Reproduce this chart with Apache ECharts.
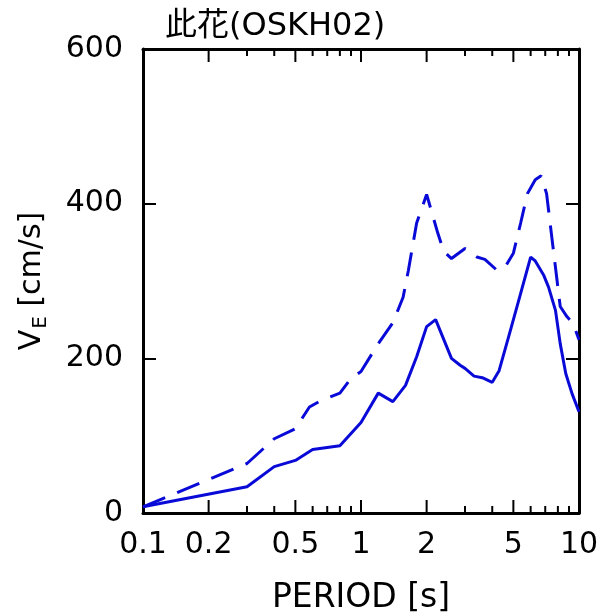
<!DOCTYPE html>
<html>
<head>
<meta charset="utf-8">
<script src="https://cdn.jsdelivr.net/npm/echarts@6/dist/echarts.min.js"></script>
<style>
  html, body { margin: 0; padding: 0; background: #fff; }
  #chart { width: 605px; height: 616px; }
</style>
</head>
<body>
<div id="chart"></div>
<script>
// period [s] and velocity [cm/s]
const solidPeriods = [0.1, 0.3, 0.4, 0.5, 0.6, 0.8, 1.0, 1.2, 1.4, 1.6, 1.8, 2.0, 2.2, 2.6, 2.85, 3.0, 3.3, 3.6, 4.0, 4.3, 4.8, 5.4, 6.0, 6.3, 6.9, 7.25, 7.8, 8.2, 8.7, 9.3, 10];
const solidValues  = [8, 34, 60, 68, 82, 87, 117, 155, 144, 165, 202, 241, 250, 200, 191, 187, 177, 175, 169, 184, 232, 284, 331, 326, 307, 292, 262, 219, 180, 154, 131];

const dashedPeriods = [0.1, 0.3, 0.4, 0.5, 0.58, 0.66, 0.8, 0.9, 1.0, 1.2, 1.4, 1.56, 1.65, 1.8, 2.0, 2.25, 2.4, 2.6, 3.0, 3.4, 3.7, 4.2, 4.6, 5.0, 5.4, 5.8, 6.3, 6.7, 7.1, 7.5, 8.2, 8.8, 9.4, 10];
const dashedValues  = [8, 64, 96, 109, 137, 146, 155, 174, 183, 219, 246, 279, 314, 375, 412, 362, 338, 329, 342, 331, 328, 314, 319, 336, 375, 413, 431, 436, 413, 357, 267, 254, 245, 224];

const xLabelValues = [0.1, 0.2, 0.5, 1, 2, 5, 10];
const xMajorTicks = [0.2, 0.5, 1, 2, 5];
const xMinorTicks = [0.3, 0.4, 0.6, 0.7, 0.8, 0.9, 3, 4, 6, 7, 8, 9];

const titleText = '此花(OSKH02)';
const xName = 'PERIOD [s]';

const BLUE = '#0a0ad8';
const FONT = '"DejaVu Sans", "Noto Sans CJK JP", sans-serif';
const Y_MIN = 0, Y_MAX = 600;

function pairs(xs, ys) {
    return xs.map((x, i) => [x, ys[i]]);
}

function logAxis(position, showLabel) {
    return {
        type: 'log',
        logBase: 10,
        min: 0.1,
        max: 10,
        position: position,
        axisLine: { show: true, onZero: false, lineStyle: { color: '#000', width: 3 } },
        axisTick: { show: false },
        axisLabel: {
            show: showLabel,
            customValues: xLabelValues,
            margin: 17,
            color: '#000',
            fontFamily: FONT,
            fontSize: 30,
            formatter: v => String(v)
        },
        splitLine: { show: false },
        minorTick: { show: false }
    };
}

function yAxisDef(position, showLabel) {
    return {
        type: 'value',
        min: Y_MIN,
        max: Y_MAX,
        interval: 200,
        position: position,
        axisLine: { show: true, onZero: false, lineStyle: { color: '#000', width: 3 } },
        axisTick: { show: true, inside: true, length: 13, lineStyle: { color: '#000', width: 2 } },
        axisLabel: {
            show: showLabel,
            margin: 20,
            color: '#000',
            fontFamily: FONT,
            fontSize: 30
        },
        splitLine: { show: false }
    };
}

// inner period ticks, placed through the log axis with api.coord
function tickSeries(atTop) {
    return {
        type: 'custom',
        data: xMajorTicks.concat(xMinorTicks).map(t => [t, atTop ? Y_MAX : Y_MIN]),
        encode: { x: 0, y: 1 },
        clip: false,
        silent: true,
        z: 4,
        renderItem: function (params, api) {
            const t = api.value(0);
            const len = xMajorTicks.indexOf(t) >= 0 ? 13 : 7;
            const p = api.coord([t, api.value(1)]);
            const y2 = atTop ? p[1] + len : p[1] - len;
            return {
                type: 'line',
                shape: { x1: p[0], y1: p[1], x2: p[0], y2: y2 },
                style: { stroke: '#000', lineWidth: 2 }
            };
        }
    };
}

function initChart() {
    const chart = echarts.init(document.getElementById('chart'));

    const bottomMain = logAxis('bottom', true);
    bottomMain.name = xName;
    bottomMain.nameLocation = 'middle';
    bottomMain.nameGap = 69;
    bottomMain.nameTextStyle = { color: '#000', fontFamily: FONT, fontSize: 33 };

    const leftMain = yAxisDef('left', true);
    leftMain.name = '{v|V}{e|E}{v| [cm/s]}';
    leftMain.nameLocation = 'middle';
    leftMain.nameRotate = 90;
    leftMain.nameGap = 92;
    leftMain.nameTextStyle = {
        color: '#000',
        fontFamily: FONT,
        rich: {
            v: { fontSize: 30, fontFamily: FONT, color: '#000' },
            e: { fontSize: 20, fontFamily: FONT, color: '#000', padding: [18, 0, 0, 1] }
        }
    };

    const option = {
        backgroundColor: '#fff',
        animation: false,
        title: {
            text: titleText,
            left: 160,
            top: 6,
            textStyle: { color: '#000', fontWeight: 'normal', fontFamily: FONT, fontSize: 32 }
        },
        grid: { left: 143, right: 26, top: 49, bottom: 103, containLabel: false, outerBoundsMode: 'none' },
        xAxis: [
            bottomMain,
            logAxis('top', false)
        ],
        yAxis: [
            leftMain,
            yAxisDef('right', false)
        ],
        series: [
            tickSeries(false),
            tickSeries(true),
            {
                name: 'solid',
                type: 'line',
                data: pairs(solidPeriods, solidValues),
                showSymbol: false,
                symbol: 'none',
                lineStyle: { color: BLUE, width: 3 },
                itemStyle: { color: BLUE },
                z: 3
            },
            {
                name: 'dashed',
                type: 'line',
                data: pairs(dashedPeriods, dashedValues),
                showSymbol: false,
                symbol: 'none',
                lineStyle: { color: BLUE, width: 3, type: [24, 13] },
                itemStyle: { color: BLUE },
                z: 3
            }
        ]
    };

    chart.setOption(option);
    window.addEventListener('resize', chart.resize);
}

document.addEventListener('DOMContentLoaded', initChart);
</script>
</body>
</html>
